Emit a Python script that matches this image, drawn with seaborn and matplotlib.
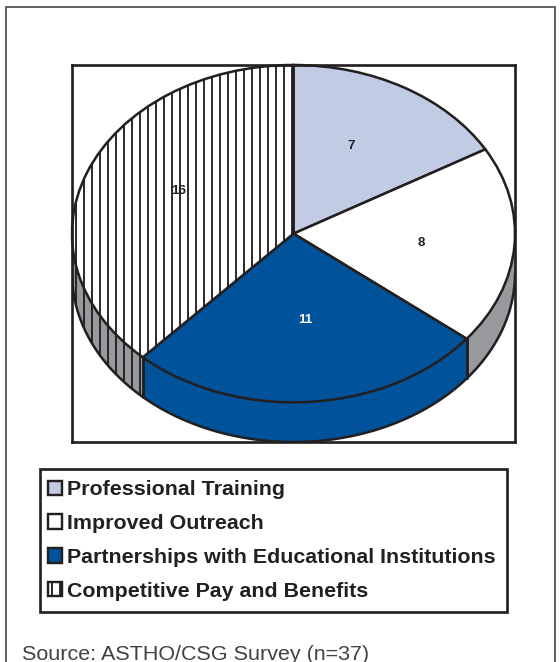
import numpy as np
import seaborn as sns
import matplotlib.pyplot as plt
from matplotlib.patches import Patch, Rectangle

categories = ['Professional Training', 'Improved Outreach',
              'Partnerships with Educational Institutions', 'Competitive Pay and Benefits']
values = [7, 8, 11, 16]
top_colors = ['#c2cbe4', '#ffffff', '#00529b', '#ffffff']
side_colors = ['#97999c', '#97999c', '#00529b', '#97999c']
hatches = [None, None, None, '||']
label_colors = ['#231f20', '#231f20', '#ffffff', '#231f20']
source_text = 'Source: ASTHO/CSG Survey (n=37)'

INK = '#231f20'
W, H = 560, 662
DPI = 96

sns.set_theme(style='white')
plt.rcParams['font.family'] = ['Liberation Sans', 'DejaVu Sans']
plt.rcParams['hatch.linewidth'] = 1.4
plt.rcParams['hatch.color'] = INK

fig = plt.figure(figsize=(W / DPI, H / DPI), dpi=DPI)


# pixel box -> figure fraction, y measured from the top of the image
def box(x0, y0, x1, y1):
    return [x0 / W, 1 - y1 / H, (x1 - x0) / W, (y1 - y0) / H]


# outer page frame, runs off the bottom
fig.add_artist(Rectangle((6 / W, -0.02), 549 / W, 1.02 - 7 / H, transform=fig.transFigure,
                         fill=False, ec='#414042', lw=1.2))

ax = fig.add_axes(box(72, 65, 515, 442))
# tilted pie: unit circle squashed by free aspect
depth = 40 / 170
ax.set_xlim(-1.0, 1.0)
ax.set_ylim(-1 - depth, 1)

fractions = np.array(values) / sum(values)
edges = np.cumsum(np.r_[0, fractions]) * 2 * np.pi

# rim of the pie, from the lower half of each slice
for i, (a, b) in enumerate(zip(edges[:-1], edges[1:])):
    lo, hi = max(a, np.pi / 2), min(b, 3 * np.pi / 2)
    if hi <= lo:
        continue
    t = np.linspace(lo, hi, 120)
    xs, ys = np.sin(t), np.cos(t)
    ax.fill_between(xs, ys, ys - depth, color=side_colors[i], lw=0, zorder=1)
    if hatches[i]:
        ax.fill_between(xs, ys, ys - depth, facecolor='none', edgecolor=INK,
                        hatch=hatches[i], lw=0, zorder=1.5)
    ax.plot(xs, ys - depth, color=INK, lw=1.9, zorder=3, solid_capstyle='butt')
    for e in (a, b):
        if np.pi / 2 < e < 3 * np.pi / 2:
            ax.plot([np.sin(e)] * 2, [np.cos(e), np.cos(e) - depth], color=INK, lw=1.9, zorder=3)

wedges, _ = ax.pie(values, colors=top_colors, startangle=90, counterclock=False,
                   radius=1, frame=True,
                   wedgeprops=dict(edgecolor=INK, linewidth=1.9, zorder=4))
for w, h in zip(wedges, hatches):
    if h:
        w.set_hatch(h)

ax.set_aspect('auto')
ax.set_xlim(-1.0, 1.0)
ax.set_ylim(-1 - depth, 1)
ax.set_xticks([])
ax.set_yticks([])
for s in ax.spines.values():
    s.set_color(INK)
    s.set_linewidth(2.0)
    s.set_zorder(6)

# slice labels near the middle of each slice, nudged by degrees
mids = (edges[:-1] + edges[1:]) / 2
nudges = np.radians([-3.5, 0.9, -1.7, 4.6])
radii = [0.578, 0.581, 0.515, 0.575]
for v, m, n, c, r in zip(values, mids, nudges, label_colors, radii):
    ax.text(r * np.sin(m + n), r * np.cos(m + n), str(v), ha='center', va='center',
            fontsize=10, fontweight='bold', color=c, zorder=7)

handles = [Patch(facecolor=c, edgecolor=INK, hatch=h, linewidth=1.8)
           for c, h in zip(top_colors, hatches)]
leg = fig.legend(handles, categories, loc='lower left', bbox_to_anchor=box(40, 469, 507, 612),
                 mode='expand', borderaxespad=0, fancybox=False, edgecolor=INK, framealpha=1,
                 prop=dict(size=16.05, weight='bold'), labelcolor=INK, labelspacing=0.69,
                 handlelength=0.65, handleheight=0.65, handletextpad=0.1,
                 borderpad=0.53)
leg.get_frame().set_linewidth(2.0)
# boxes sit a little left of where the legend puts them
for h in leg.legend_handles:
    h.set_x(h.get_x() - 2.5)

fig.text(22 / W, 1 - 654 / H, source_text, fontsize=16.1, color='#414042', va='center')

fig.savefig('out.png', dpi=DPI)
